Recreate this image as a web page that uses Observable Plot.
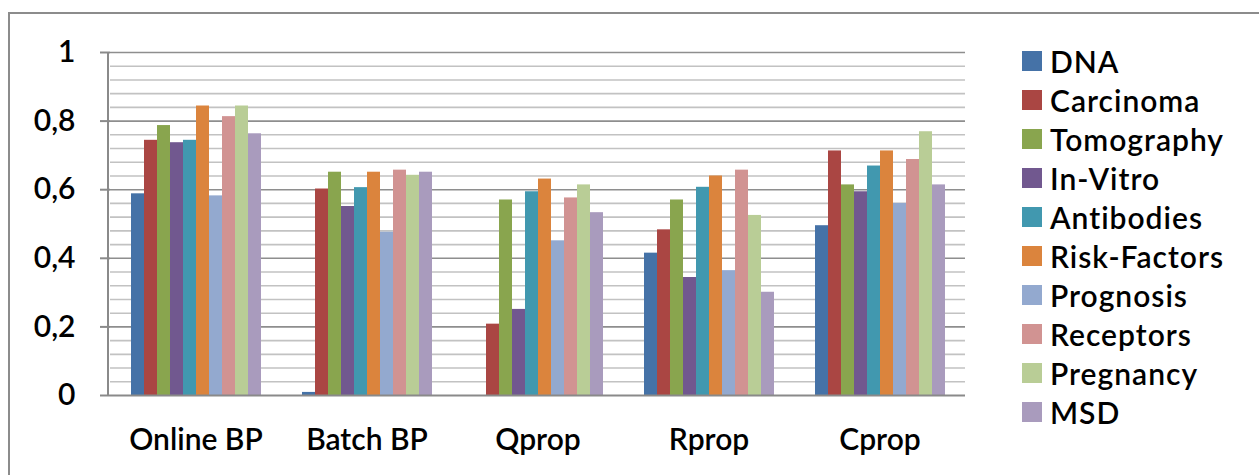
<!DOCTYPE html>
<html>
<head>
<meta charset="utf-8">
<script src="https://cdn.jsdelivr.net/npm/d3@7"></script>
<script src="https://cdn.jsdelivr.net/npm/@observablehq/plot@0.6"></script>
<style>
  html, body { margin: 0; padding: 0; background: #fff; }
  #wrap { position: relative; width: 1259px; height: 475px; overflow: hidden; font-family: Lato, "DejaVu Sans", sans-serif; }
  #border { position: absolute; left: 8px; top: 12px; width: 1400px; height: 600px; border-left: 2.5px solid #8c8c8c; border-top: 2.5px solid #8c8c8c; }
  #chart { position: absolute; left: 0; top: 0; }
  #legend { position: absolute; left: 1022px; top: 41px; }
  .item { display: flex; align-items: center; height: 39.1px; }
  .sw { width: 20px; height: 20px; margin-right: 8px; }
  .lab { font-size: 30px; color: #000; font-weight: 600; letter-spacing: 1px; }
</style>
</head>
<body>
<div id="wrap">
  <div id="border"></div>
  <div id="chart"></div>
  <div id="legend"></div>
</div>
<script>
const groups = ["Online BP", "Batch BP", "Qprop", "Rprop", "Cprop"];
const series = ["DNA", "Carcinoma", "Tomography", "In-Vitro", "Antibodies", "Risk-Factors", "Prognosis", "Receptors", "Pregnancy", "MSD"];
const colors = ["#4572A7", "#AA4643", "#89A54E", "#71588F", "#4198AF", "#DB843D", "#93A9CF", "#D19392", "#B9CD96", "#A99BBD"];

const onlineBP = [0.588, 0.744, 0.787, 0.737, 0.744, 0.844, 0.582, 0.813, 0.844, 0.763];
const batchBP  = [0.009, 0.602, 0.651, 0.551, 0.606, 0.651, 0.476, 0.657, 0.642, 0.651];
const qprop    = [0.000, 0.208, 0.570, 0.251, 0.594, 0.631, 0.451, 0.576, 0.614, 0.533];
const rprop    = [0.415, 0.483, 0.570, 0.344, 0.607, 0.640, 0.364, 0.657, 0.525, 0.301];
const cprop    = [0.495, 0.713, 0.614, 0.594, 0.669, 0.713, 0.560, 0.688, 0.769, 0.614];

const yTicks = [0, 0.2, 0.4, 0.6, 0.8, 1];
const yTickLabels = ["0", "0,2", "0,4", "0,6", "0,8", "1"];
const minorGrid = [0.04, 0.08, 0.12, 0.16, 0.24, 0.28, 0.32, 0.36, 0.44, 0.48, 0.52, 0.56, 0.64, 0.68, 0.72, 0.76, 0.84, 0.88, 0.92, 0.96];
const majorGrid = [0.2, 0.4, 0.6, 0.8, 1];

const groupValues = [onlineBP, batchBP, qprop, rprop, cprop];
const data = [];
groups.forEach((g, gi) => series.forEach((s, si) => data.push({group: g, series: s, value: groupValues[gi][si]})));

const marginLeft = 108;
const chart = Plot.plot({
  width: 990,
  height: 475,
  marginLeft,
  marginRight: 24,
  marginTop: 52,
  marginBottom: 80,
  style: {fontFamily: "Lato, 'DejaVu Sans', sans-serif", color: "#000", background: "transparent"},
  fx: {domain: groups, padding: 0, label: null},
  x: {domain: series, paddingInner: 0, paddingOuter: 1.5, axis: null},
  y: {domain: [0, 1], axis: null},
  color: {domain: series, range: colors},
  marks: [
    Plot.ruleY(minorGrid, {stroke: "#c2c2c2", strokeWidth: 1.6}),
    Plot.ruleY(majorGrid, {stroke: "#8e8e8e", strokeWidth: 1.6}),
    Plot.barY(data, {fx: "group", x: "series", y: "value", fill: "series"}),
    Plot.ruleY([0], {stroke: "#8a8a8a", strokeWidth: 2}),
    Plot.axisY({ticks: yTicks, tickFormat: d => yTickLabels[yTicks.indexOf(d)], tickSize: 10, tickPadding: 25, fontSize: 30, fontWeight: 600, label: null, stroke: "#8a8a8a", strokeWidth: 2}),
    Plot.axisFx({anchor: "bottom", tickSize: 0, tickPadding: 33, fontSize: 30, fontWeight: 600, label: null, style: {letterSpacing: "0.5px"}})
  ]
});
document.getElementById("chart").appendChild(chart);

// vertical value-axis line, positioned through the plot's own y scale
const ys = chart.scale("y");
d3.select(chart).append("line")
  .attr("x1", marginLeft).attr("x2", marginLeft)
  .attr("y1", ys.apply(0) + 1).attr("y2", ys.apply(1))
  .attr("stroke", "#8a8a8a").attr("stroke-width", 2);

const legend = d3.select("#legend");
series.forEach((s, i) => {
  const row = legend.append("div").attr("class", "item");
  row.append("div").attr("class", "sw").style("background", colors[i]);
  row.append("div").attr("class", "lab").text(s);
});
</script>
</body>
</html>
